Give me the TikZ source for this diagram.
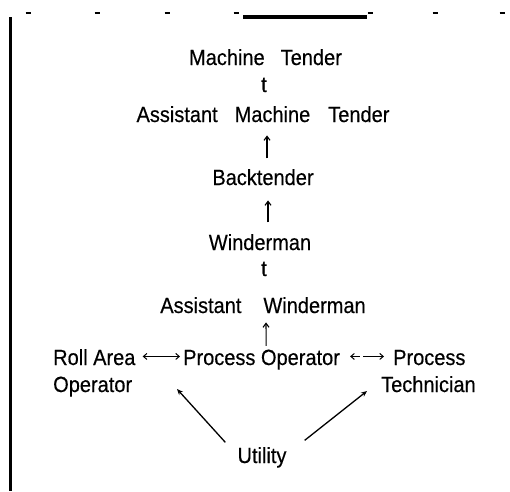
\documentclass[tikz,border=0pt]{standalone}
\usepackage{fontspec}
\setmainfont{Liberation Sans}
\usetikzlibrary{arrows.meta}
% labels are set slightly tall and heavy
\newcommand{\tallbox}[1]{\scalebox{1}[1.1]{#1}}
\tikzset{
  lbl/.style={inner sep=0pt, anchor=base,
    font=\fontsize{20pt}{22pt}\selectfont\addfontfeature{FakeBold=0.4}},
  lblw/.style={lbl, anchor=base west},
  upar/.style={line width=1.1pt, -{Straight Barb[length=4pt,width=6pt,line width=1.1pt]}},
  harr/.style={line width=1pt, {Straight Barb[length=3.5pt,width=6pt]}-{Straight Barb[length=3.5pt,width=6pt]}},
  diag/.style={line width=1.3pt, -{Stealth[length=6pt,width=5pt]}},
  tick/.style={line width=1.4pt}
}
\begin{document}
\begin{tikzpicture}[x=1pt,y=-1pt]
\useasboundingbox (0,0) rectangle (510,491);
% header rule with dash marks
\foreach \xx in {28,97,167,236,370,435,502}
  \draw[tick] (\xx-2.5,13) -- (\xx+2.5,13);
\draw[line width=3.5pt] (243,17) -- (367,17);
% left margin bar
\draw[line width=3pt] (10,17) -- (10,491);

% career ladder
\node[lbl] (mt)  at (265.5,65) {\tallbox{Machine\hspace{16pt}Tender}};
\node[lbl] (t1)  at (264,92)   {\tallbox{t}};
\node[lbl] (amt) at (263,122)  {\tallbox{Assistant\hspace{17pt}Machine\hspace{18pt}Tender}};
\node[lbl] (bt)  at (263,185)  {\tallbox{Backtender}};
\node[lbl] (wm)  at (260,250)  {\tallbox{Winderman}};
\node[lbl] (t2)  at (264,276)  {\tallbox{t}};
\node[lbl] (aw)  at (263,313)  {\tallbox{Assistant\hspace{22pt}Winderman}};

% entry level positions
\node[lblw] (ra1) at (53,365)  {\tallbox{Roll Area}};
\node[lblw] (ra2) at (53,392)  {\tallbox{Operator}};
\node[lblw] (po)  at (183,365) {\tallbox{Process Operator}};
\node[lblw] (pt1) at (393,365) {\tallbox{Process}};
\node[lblw] (pt2) at (381,392) {\tallbox{Technician}};
\node[lbl]  (ut)  at (262,463) {\tallbox{Utility}};

% promotion arrows (canvas yshift: positive is up)
\draw[upar] ([xshift=4pt,yshift=10.5pt]bt.north) -- ([xshift=4pt,yshift=-13pt]amt.south);
\draw[upar] ([xshift=8pt,yshift=11.5pt]wm.north) -- ([xshift=5pt,yshift=-15pt]bt.south);
\draw[upar] ([xshift=4.6pt,yshift=3.5pt]po.north) -- ([xshift=3pt,yshift=-9pt]aw.south);

% lateral moves
\draw[harr] ([xshift=7pt,yshift=0.7pt]ra1.east) -- ([xshift=-3pt,yshift=0.7pt]ra1.east -| po.west);
\draw[harr, dash pattern=on 9pt off 3pt on 30pt]
  ([xshift=10pt,yshift=0.7pt]ra1.east -| po.east) -- ([xshift=-9pt,yshift=0.7pt]ra1.east -| pt1.west);

% from utility
\draw[diag] ([xshift=-12pt,yshift=4.5pt]ut.north west) -- (177,389) coordinate (ul);
\draw[diag] ([xshift=18pt,yshift=6.5pt]ut.north east) -- (367,391) coordinate (ur);
\end{tikzpicture}
\end{document}
